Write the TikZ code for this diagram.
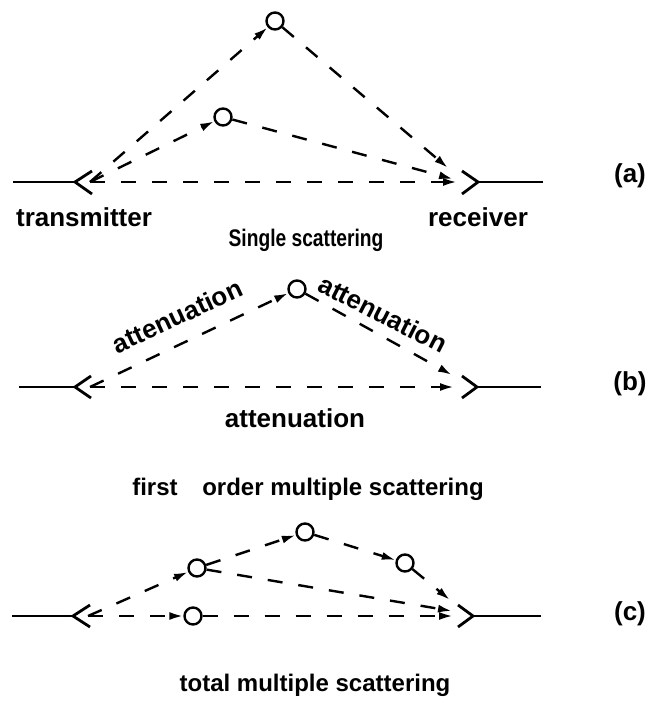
\documentclass[tikz,border=0pt]{standalone}
\usepackage{fontspec}
\setmainfont{Liberation Sans}
\usetikzlibrary{arrows.meta,calc}
\begin{document}
\begin{tikzpicture}[x=1pt,y=-1pt,
  ant/.style={line width=2.8pt},
  ray/.style={line width=2.4pt,dash pattern=on 15pt off 16pt,-{Latex[length=14pt,width=8pt]}},
  scat/.style={circle,draw,line width=2.4pt,minimum size=17pt,inner sep=0pt},
  lbl/.style={inner sep=0pt,anchor=base},
  big/.style={font=\bfseries\fontsize{26}{30}\selectfont},
  mid/.style={font=\bfseries\fontsize{24}{28}\selectfont},
  sml/.style={font=\bfseries\fontsize{24}{28}\selectfont,xscale=0.8},
  tag/.style={inner sep=0pt,anchor=center,font=\bfseries\fontsize{26}{30}\selectfont},
]
\useasboundingbox (0,0) rectangle (651,708);

% ---------- (a) ----------
\coordinate (tvA) at (75,182);
\coordinate (tA) at (90,182);
\coordinate (rvA) at (478,182);
\coordinate (rA) at (457,182);
\coordinate (rA1) at (448,168);
\coordinate (rA2) at (453,179);
\node[scat] (a1) at (275,21) {};
\node[scat] (a2) at (223,117) {};
\draw[ant] (13,182) -- (tvA);
\draw[ant] (92,171) -- (tvA) -- (92,194);
\draw[ant] (543,182) -- (rvA);
\draw[ant] (462,171) -- (rvA) -- (462,194);
\draw[ray] (tA) -- (a1);
\draw[ray] (tA) -- (a2);
\draw[ray] (tA) -- (rA);
\draw[ray] (a1) -- (rA1);
\draw[ray] (a2) -- (rA2);
\node[lbl,big] (ttx) at (84,227) {transmitter};
\node[lbl,big] (trx) at (478,227) {receiver};
\node[lbl,sml] (tsingle) at (306,247) {Single scattering};
\node[tag] (la) at (630,176) {(a)};

% ---------- (b) ----------
\coordinate (tvB) at (75,387);
\coordinate (tB) at (90,387);
\coordinate (rvB) at (477,387);
\coordinate (rB) at (454,387);
\coordinate (rB1) at (452,375);
\node[scat] (b1) at (297,289) {};
\draw[ant] (19,387) -- (tvB);
\draw[ant] (91,376) -- (tvB) -- (91,398);
\draw[ant] (541,387) -- (rvB);
\draw[ant] (462,376) -- (rvB) -- (462,398);
\draw[ray] (tB) -- (b1);
\draw[ray] (b1) -- (rB1);
\draw[ray] (tB) -- (rB);
\node[inner sep=0pt,big,rotate=25] (attl) at (177,316) {attenuation};
\node[inner sep=0pt,big,rotate=-27] (attr) at (383,314) {attenuation};
\node[lbl,big] (attb) at (295,427) {attenuation};
\node[tag] (lb) at (630,384) {(b)};

\node[lbl,mid] (tfirst) at (155,495) {first};
\node[lbl,mid] (torder) at (343,495) {order multiple scattering};

% ---------- (c) ----------
\coordinate (tvC) at (73,616);
\coordinate (tC) at (88,616);
\coordinate (rvC) at (473,616);
\coordinate (rC) at (453,616);
\coordinate (rC2) at (452,611);
\coordinate (rC4) at (450,600);
\node[scat] (c1) at (193,616) {};
\node[scat] (c2) at (197,568) {};
\node[scat] (c3) at (305,532) {};
\node[scat] (c4) at (405,563) {};
\draw[ant] (12,616) -- (tvC);
\draw[ant] (90,605) -- (tvC) -- (90,627);
\draw[ant] (541,616) -- (rvC);
\draw[ant] (458,605) -- (rvC) -- (458,627);
\draw[ray] (tC) -- (c1);
\draw[ray] (c1) -- (rC);
\draw[ray] (tC) -- (c2);
\draw[ray] (c2) -- (c3);
\draw[ray] (c3) -- (c4);
\draw[ray] (c4) -- (rC4);
\draw[ray] (c2) -- (rC2);
\node[tag] (lc) at (630,614) {(c)};
\node[lbl,mid] (ttotal) at (315,691) {total multiple scattering};
\end{tikzpicture}
\end{document}
